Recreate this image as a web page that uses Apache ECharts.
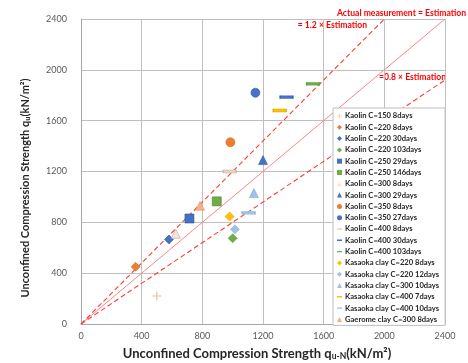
<!DOCTYPE html>
<html>
<head>
<meta charset="utf-8">
<script src="https://cdn.jsdelivr.net/npm/echarts@6/dist/echarts.min.js"></script>
<style>
  html, body { margin: 0; padding: 0; background: #fff; }
  #chart { width: 468px; height: 363px; }
</style>
</head>
<body>
<div id="chart"></div>
<script>
// sample names
var seriesNames = [
    'Kaolin C=150 8days', 'Kaolin C=220 8days', 'Kaolin C=220 30days', 'Kaolin C=220 103days',
    'Kaolin C=250 29days', 'Kaolin C=250 146days', 'Kaolin C=300 8days', 'Kaolin C=300 29days',
    'Kaolin C=350 8days', 'Kaolin C=350 27days', 'Kaolin C=400 8days', 'Kaolin C=400 30days',
    'Kaolin C=400 103days', 'Kasaoka clay C=220 8days', 'Kasaoka clay C=220 12days',
    'Kasaoka clay C=300 10days', 'Kasaoka clay C=400 7days', 'Kasaoka clay C=400 10days',
    'Gaerome clay C=300 8days'
];
// estimated strength q_u-N (x) and measured strength q_u (y), kN/m2
var estimated = [500, 360, 580, 1000, 715, 895, 625, 1200, 985, 1150, 980, 1355, 1530, 980, 1015, 1140, 1310, 1105, 785];
var measured = [220, 450, 665, 675, 830, 965, 710, 1290, 1430, 1820, 1200, 1785, 1890, 845, 745, 1030, 1680, 875, 930];

// reference lines: y = x, y = 1.2x, y = 0.8x
var lineEqual = [[0, 0], [2400, 2400]];
var lineUpper = [[0, 0], [2000, 2400]];
var lineLower = [[0, 0], [2400, 1920]];

var axisTicks = [0, 400, 800, 1200, 1600, 2000, 2400];

var CROSS = 'path://M4.4,0H5.6V4.4H10V5.6H5.6V10H4.4V5.6H0V4.4H4.4Z';
var DASH_ICON = 'path://M0,0H0.01V0.01H0ZM0,3.6H10V6.4H0ZM0,9.99H0.01V10H0Z';

// marker look per sample: [symbol, size, fill, border]
var looks = [
    [CROSS, 9, '#EBB99A', null],
    ['diamond', 9, '#ED7D31', '#D86A20'],
    ['diamond', 9, '#4472C4', '#3A62A8'],
    ['diamond', 9, '#70AD47', '#5E9A38'],
    ['rect', 9, '#4472C4', '#2F528F'],
    ['rect', 9, '#70AD47', '#507E32'],
    ['triangle', 9, '#FBE5D6', '#A6A6A6'],
    ['triangle', 9, '#4472C4', '#3A62A8'],
    ['circle', 9, '#ED7D31', '#D86A20'],
    ['circle', 9, '#4472C4', '#3A62A8'],
    ['rect', [13, 3], '#E6D2C4', '#C9B3A5'],
    ['rect', [13, 3], '#4472C4', '#3A62A8'],
    ['rect', [13, 3], '#70AD47', '#5E9A38'],
    ['diamond', 9, '#FFC000', '#E0A800'],
    ['diamond', 9, '#9DC3E6', '#8AB0D6'],
    ['triangle', 9, '#9DC3E6', '#7FA8D0'],
    ['rect', [13, 3], '#FFC000', '#E0A800'],
    ['rect', [13, 3], '#9DC3E6', '#8AB0D6'],
    ['triangle', 9, '#F4B183', '#E59A66']
];

var series = [];
var legendData = [];
for (var i = 0; i < seriesNames.length; i++) {
    var lk = looks[i];
    series.push({
        name: seriesNames[i],
        type: 'scatter',
        symbol: lk[0],
        symbolSize: lk[1],
        itemStyle: {
            color: lk[2],
            borderColor: lk[3] || lk[2],
            borderWidth: lk[3] ? 0.6 : 0,
            opacity: 1
        },
        z: 5,
        data: [[estimated[i], measured[i]]]
    });
    legendData.push({
        name: seriesNames[i],
        icon: Array.isArray(lk[1]) ? DASH_ICON : lk[0],
        itemStyle: { borderWidth: 0 }
    });
}

function refLine(data, dashed) {
    return {
        type: 'line',
        data: data,
        symbol: 'none',
        silent: true,
        z: 3,
        lineStyle: {
            color: dashed ? '#FF3B3B' : '#FF8585',
            width: dashed ? 1.1 : 1,
            type: dashed ? [5, 3] : 'solid'
        }
    };
}
series.push(refLine(lineEqual, false));
series.push(refLine(lineUpper, true));
series.push(refLine(lineLower, true));

var option = {
    animation: false,
    backgroundColor: '#fff',
    textStyle: { fontFamily: 'Lato' },
    grid: { left: 81, right: 23, top: 19, bottom: 39, outerBoundsMode: 'none' },
    xAxis: {
        type: 'value',
        min: axisTicks[0],
        max: axisTicks[axisTicks.length - 1],
        interval: 400,
        axisLine: { lineStyle: { color: '#A6A6A6' } },
        axisTick: { show: false },
        axisLabel: { color: '#595959', fontSize: 9, margin: 8, formatter: function (v) { return String(v); } },
        splitLine: { lineStyle: { color: '#BFBFBF', width: 1 } },
        name: 'Unconfined Compression Strength q{sub|u-N}(kN/m²)',
        nameLocation: 'middle',
        nameGap: 22,
        nameTextStyle: {
            color: '#262626',
            fontSize: 13,
            fontWeight: 'bold',
            padding: [0, 12, 0, 0],
            rich: {
                sub: { fontSize: 8.5, fontWeight: 'bold', color: '#262626', verticalAlign: 'bottom', padding: [6, 0, 0, 0] }
            }
        }
    },
    yAxis: {
        type: 'value',
        min: axisTicks[0],
        max: axisTicks[axisTicks.length - 1],
        interval: 400,
        axisLine: { show: true, lineStyle: { color: '#A6A6A6' } },
        axisTick: { show: false },
        axisLabel: { color: '#595959', fontSize: 9, margin: 14, formatter: function (v) { return String(v); } },
        splitLine: { lineStyle: { color: '#BFBFBF', width: 1 } }
    },
    legend: {
        orient: 'vertical',
        left: 333,
        top: 108,
        itemWidth: 5,
        itemHeight: 5,
        itemGap: 3.3,
        padding: [4, 6, 2, 4],
        backgroundColor: '#fff',
        borderColor: '#BFBFBF',
        borderWidth: 1,
        textStyle: { fontSize: 7.6, lineHeight: 7, fontWeight: 'bold', color: '#262626', padding: [0, 0, 0, -2] },
        data: legendData
    },
    graphic: [
        {
            type: 'text',
            x: 25,
            y: 188,
            rotation: Math.PI / 2,
            style: {
                text: 'Unconfined Compression Strength q{sub|u}(kN/m²)',
                fill: '#262626',
                font: 'bold 11px Lato',
                align: 'center',
                verticalAlign: 'middle',
                rich: {
                    sub: { fontSize: 7, fontWeight: 'bold', fill: '#262626', verticalAlign: 'bottom', padding: [6, 0, 0, 0] }
                }
            }
        },
        {
            type: 'text', x: 466, y: 13,
            style: { text: 'Actual measurement = Estimation', fill: '#FF0000', font: 'bold 8.6px Lato', align: 'right', verticalAlign: 'middle' }
        },
        {
            type: 'text', x: 367, y: 25,
            style: { text: '= 1.2 × Estimation', fill: '#FF0000', font: 'bold 8.6px Lato', align: 'right', verticalAlign: 'middle' }
        },
        {
            type: 'text', x: 379, y: 77,
            style: { text: '=0.8 × Estimation', fill: '#FF0000', font: 'bold 8.6px Lato', align: 'left', verticalAlign: 'middle' }
        }
    ],
    series: series
};

var chart = echarts.init(document.getElementById('chart'));
chart.setOption(option);
</script>
</body>
</html>
